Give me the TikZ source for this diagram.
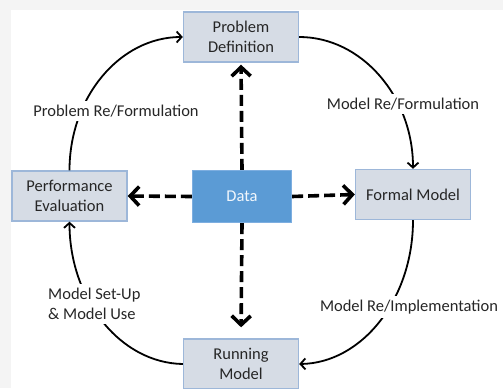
\documentclass[tikz,border=0pt]{standalone}
\usepackage{fontspec}
\setmainfont{Carlito}
\usetikzlibrary{arrows.meta}
\definecolor{boxfill}{HTML}{D6DCE5}
\definecolor{boxline}{HTML}{9DB7D9}
\definecolor{datafill}{HTML}{5B9BD5}
\definecolor{dataline}{HTML}{7DAEE0}
\definecolor{bggray}{HTML}{F4F4F4}
\definecolor{txt}{HTML}{262626}
\begin{document}
\begin{tikzpicture}[x=1pt,y=-1pt,
  fnt/.style={font=\fontsize{16.5}{20}\selectfont},
  box/.style={fnt, draw=boxline, fill=boxfill, line width=1.4pt, minimum width=115pt, minimum height=50pt, align=center, text=txt, inner sep=0pt},
  databox/.style={fnt, draw=dataline, fill=datafill, line width=1.2pt, minimum width=99pt, minimum height=52pt, text=white!92!datafill, inner sep=0pt},
  lab/.style={fnt, fill=white, text=txt, inner sep=4pt},
  flow/.style={line width=1.8pt, -{Straight Barb[length=5pt,width=11pt]}},
  dataflow/.style={line width=3.6pt, dash pattern=on 11pt off 5pt, -{Straight Barb[length=9pt,width=19pt]}}
]
\useasboundingbox (0,0) rectangle (503,388);
\fill[bggray] (0,0) rectangle (503,388);
\fill[white] (11,10) rectangle (503,388);

\node[box] (pd) at (241,37) {Problem\\Definition};
\node[box] (pe) at (69.5,196) {Performance\\Evaluation};
\node[box] (fm) at (413,194.5) {Formal Model};
\node[box] (rm) at (241,364) {Running\\Model};
\node[databox] (d) at (242,196.5) {Data};

\draw[flow] (pe.north) .. controls (69.5,97) and (120,37) .. (pd.west);
\draw[flow] (pd.east) .. controls (362,37) and (413,97) .. (fm.north);
\draw[flow] (fm.south) .. controls (413,299) and (362,363) .. (rm.east);
\draw[flow] (rm.west) .. controls (120,363) and (69.5,299) .. (pe.south);

\node[lab] at (116,111) {Problem Re/Formulation};
\node[lab] at (403,104) {Model Re/Formulation};
\node[lab] at (409,307) {Model Re/Implementation};
\node[lab, align=left, anchor=west] at (44,304) {Model Set-Up\\\& Model Use};

\draw[dataflow, shorten >=2pt] (d.north) -- (pd.south);
\draw[dataflow] (d.west) -- (pe.east);
\draw[dataflow] (d.east) -- (fm.west);
\draw[dataflow, shorten >=11pt] (d.south) -- (rm.north);
\end{tikzpicture}
\end{document}
